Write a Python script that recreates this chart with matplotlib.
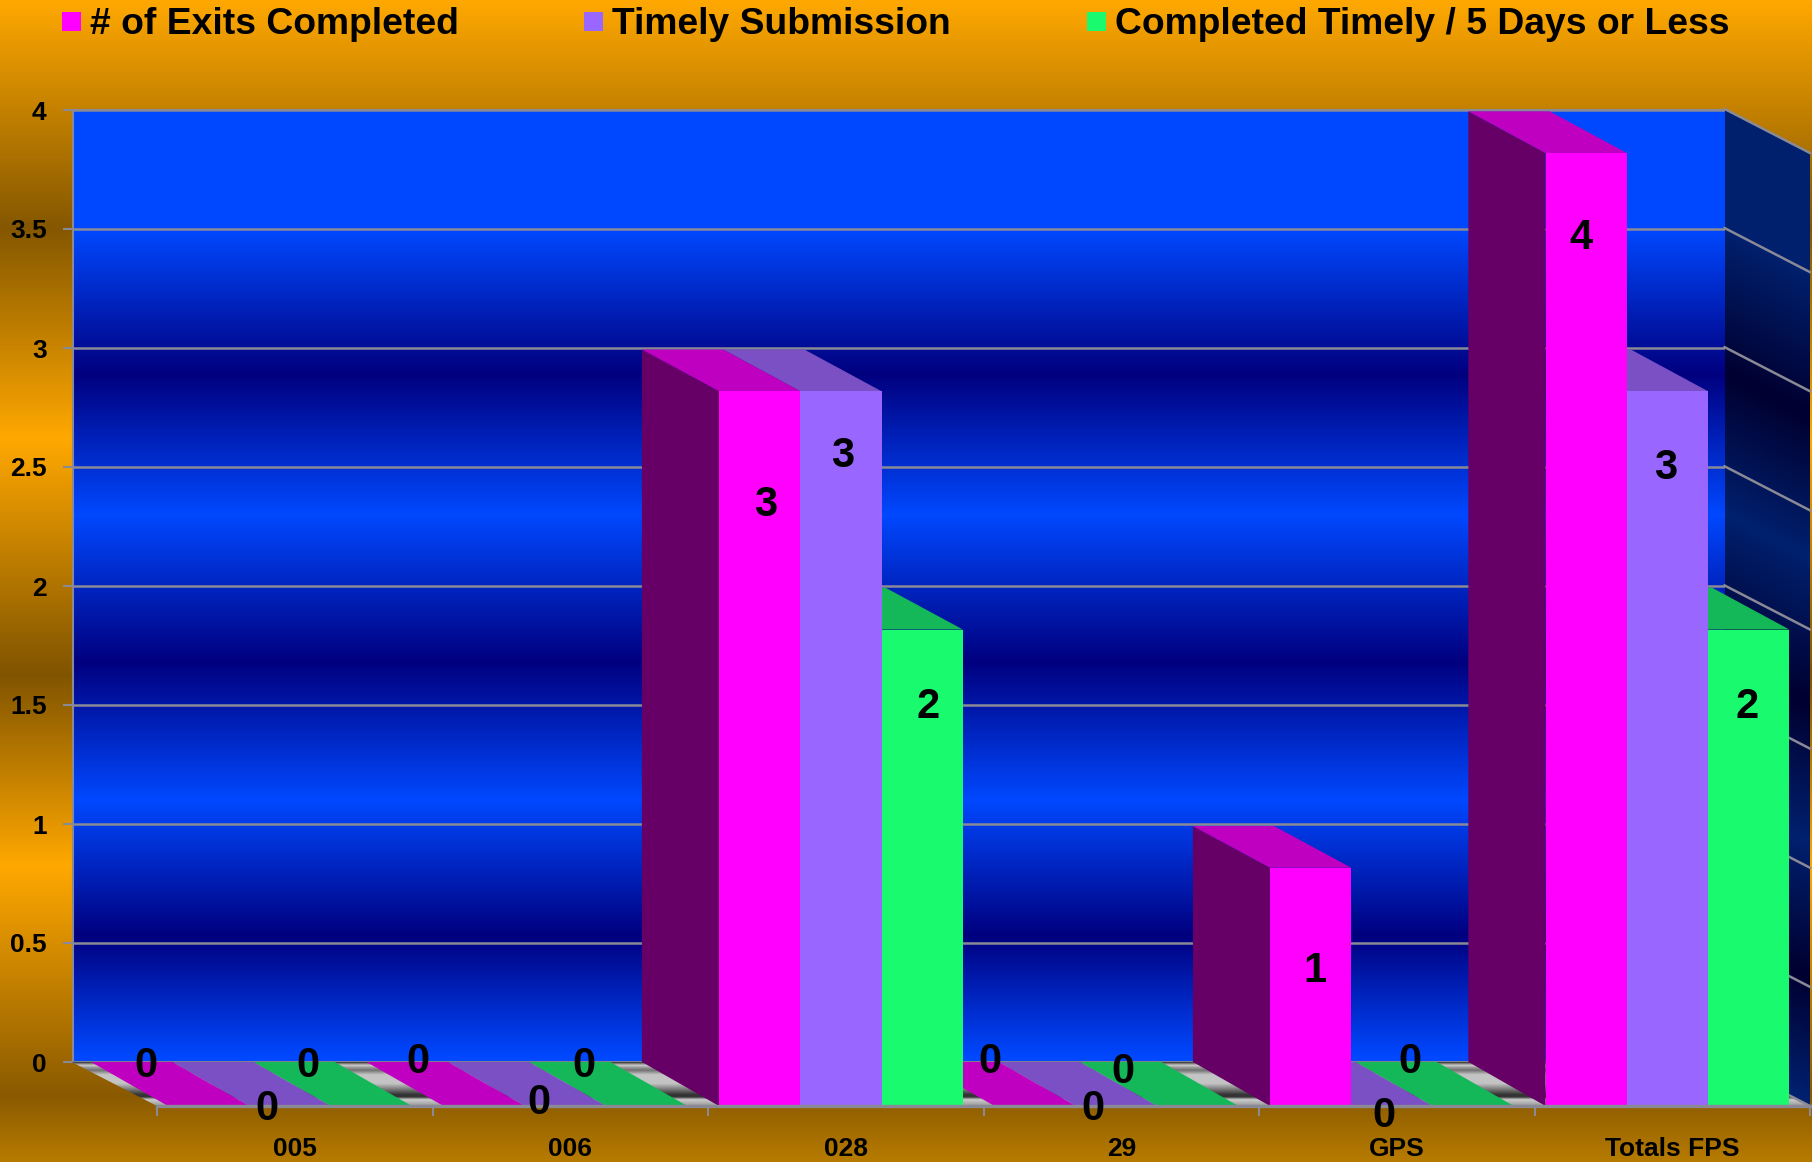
import numpy as np
import matplotlib
matplotlib.use('Agg')
import matplotlib.pyplot as plt
from matplotlib.patches import Polygon, Rectangle
from matplotlib.colors import to_rgb

plt.rcParams['font.family'] = ['Liberation Sans', 'DejaVu Sans']
plt.rcParams['font.weight'] = 'bold'

#-------------------------------------------------------------------------------
#--- (1) Data
#-------------------------------------------------------------------------------
categories = ['005', '006', '028', '29', 'GPS', 'Totals FPS']
series     = ['# of Exits Completed', 'Timely Submission',
              'Completed Timely / 5 Days or Less']
exits      = [0, 0, 3, 0, 1, 4]
timely     = [0, 0, 3, 0, 0, 3]
five_days  = [0, 0, 2, 0, 0, 2]
yticks     = [0, 0.5, 1, 1.5, 2, 2.5, 3, 3.5, 4]
ylabels    = ['0', '0.5', '1', '1.5', '2', '2.5', '3', '3.5', '4']

#-------------------------------------------------------------------------------
#--- (2) Styles
#-------------------------------------------------------------------------------
W, H = 1812, 1162
front_c = ['#FF00FF', '#9966FF', '#1AFA6E']
top_c   = ['#C000C0', '#7B50C4', '#14B858']
side_c  = ['#660066', '#4D3380', '#0D7C38']
grid_c  = '#8A8A96'

# label shift from the top of each bar's front face, in pixels
label_dx = [[-63, -23, -63], [-66, -26, -63], [6, 2, 6],
            [-45, -23, -75], [4, -8, -63], [-5, -2, -2]]
label_dy = [[40, -3, 40], [44, 3, 40], [-114, -65, -78],
            [44, -3, 34], [-103, -10, 44], [-85, -77, -78]]

# background gradients: (pixel row / axis value, colour)
orange_y = [0, 228, 438, 674, 865, 1095, 1162]
orange_c = ['#FFA800', '#845700', '#FFA800', '#805400', '#FFA800', '#8A5A00', '#B87C00']
wall_v   = [0.0, 0.02, 0.53, 1.10, 1.68, 2.30, 2.89, 3.50, 4.19]
wall_c   = ['#0048FF', '#0048FF', '#00007F', '#0048FF', '#00007F',
            '#0048FF', '#00007F', '#0048FF', '#0048FF']
side_g   = ['#00206E', '#00206E', '#000030', '#00206E', '#000030',
            '#00206E', '#000030', '#00206E', '#00206E']
floor_d  = [0, 0.14, 0.2, 0.25, 0.50, 0.70, 0.80, 0.86, 0.91, 0.99, 1]
floor_c  = ['#999999', '#CCCCCC', '#333333', '#333333', '#C4C4C4', '#C4C4C4',
            '#707070', '#999999', '#CCCCCC', '#222222', '#222222']

def ramp(pos, stops, cols):
    rgb = np.array([to_rgb(c) for c in cols])
    return np.stack([np.interp(pos, stops, rgb[:, i]) for i in range(3)], axis=-1)

def box(x0, y0, x1, y1):
    return [x0/W, 1-y1/H, (x1-x0)/W, (y1-y0)/H]

#-------------------------------------------------------------------------------
#--- (3) Background and back wall
#-------------------------------------------------------------------------------
fig = plt.figure(figsize=(W/100, H/100), dpi=100)
bg = fig.add_axes([0, 0, 1, 1], zorder=0)
rows = np.arange(H)
bg.imshow(ramp(rows, orange_y, orange_c)[:, None, :], aspect='auto', extent=[0, W, H, 0])
bg.set_axis_off()

ax = fig.add_axes(box(73, 110, 1725, 1062), zorder=1)
vals = np.linspace(4, 0, 952)
ax.imshow(ramp(vals, wall_v, wall_c)[:, None, :], aspect='auto', extent=[0, 6, 0, 4])
ax.set_xlim(0, 6)
ax.set_ylim(0, 4)
ax.set_xticks([])
ax.set_yticks(yticks, ylabels, fontsize=19)
ax.tick_params(axis='y', length=7.5, width=1.5, color=grid_c, pad=11.5)
ax.set_axisbelow(True)
ax.grid(axis='y', color=grid_c, linewidth=1.8)
for s in ax.spines.values():
    s.set_color(grid_c)
    s.set_linewidth(1.5)
ax.spines['right'].set_visible(False)

#-------------------------------------------------------------------------------
#--- (4) Front plane: floor, side wall, bars
#-------------------------------------------------------------------------------
fr = fig.add_axes(box(157, 153, 1810, 1106), zorder=2)
fr.patch.set_alpha(0)
DX, DY = 0.31, 0.185      # floor depth in data units
BX, BT = 0.28, 0.175      # bar depth along x, and along y at the bar top
gap, bw = 0.04, 0.295

floor = Polygon([(0, 0), (6, 0), (6-DX, DY), (-DX, DY)], transform=fr.transData, fc='none', ec='none')
fr.add_patch(floor)
im = fr.imshow(ramp(np.linspace(1, 0, 90), floor_d, floor_c)[:, None, :], aspect='auto',
               extent=[-DX, 6, 0, DY], zorder=1)
im.set_clip_box(fig.bbox)
im.set_clip_path(floor)

wall = Polygon([(6, 0), (6, 4), (6-DX, 4+DY), (6-DX, DY)], transform=fr.transData, fc='none', ec='none')
fr.add_patch(wall)
xs = np.linspace(6-DX, 6, 60)
ys = np.linspace(4+DY, 0, 600)
xx, yy = np.meshgrid(xs, ys)
im2 = fr.imshow(ramp(yy - DY*(6-xx)/DX, wall_v, side_g), aspect='auto',
                extent=[6-DX, 6, 0, 4+DY], zorder=1)
im2.set_clip_box(fig.bbox)
im2.set_clip_path(wall)

for v in yticks:
    fr.plot([6-DX, 6], [v+DY, v], color=grid_c, lw=1.8, zorder=2, clip_on=False)

values = [exits, timely, five_days]
z = 10
for i in range(len(categories)-1, -1, -1):
    for j in range(2, -1, -1):
        v = values[j][i]
        x0 = i + gap + j*bw
        x1 = x0 + bw
        top = DY if v == 0 else BT
        if v > 0:
            fr.add_patch(Polygon([(x0, 0), (x0, v), (x0-BX, v+top), (x0-BX, DY)],
                                 fc=side_c[j], ec='none', zorder=z, clip_on=False))
        fr.add_patch(Polygon([(x0, v), (x1, v), (x1-BX, v+top), (x0-BX, v+top)],
                             fc=top_c[j], ec='none', zorder=z+1, clip_on=False))
        fr.bar(x0, v, bw, align='edge', color=front_c[j], zorder=z+2, clip_on=False)
        z += 3

for i in range(len(categories)):
    for j in range(3):
        v = values[j][i]
        fr.annotate(str(v), (i + gap + (j+0.5)*bw, v),
                    xytext=(label_dx[i][j], label_dy[i][j]), textcoords='offset pixels',
                    ha='center', va='center', fontsize=30, color='black',
                    zorder=500, annotation_clip=False)

fr.set_xlim(0, 6)
fr.set_ylim(0, 4)
fr.set_yticks([])
fr.set_xticks(range(7))
fr.set_xticklabels([])
fr.set_xticks(np.arange(6)+0.5, categories, minor=True, fontsize=19)
fr.tick_params(axis='x', which='major', length=7.5, width=1.5, color=grid_c)
fr.tick_params(axis='x', which='minor', length=0, pad=22)
for k in ['top', 'left', 'right']:
    fr.spines[k].set_visible(False)
fr.spines['bottom'].set_color(grid_c)
fr.spines['bottom'].set_linewidth(2.4)
fr.spines['bottom'].set_zorder(400)

#-------------------------------------------------------------------------------
#--- (5) Legend
#-------------------------------------------------------------------------------
key_x = [62, 584, 1087]
for n in range(3):
    fig.add_artist(Rectangle((key_x[n]/W, 1-31/H), 19/W, 19/H, transform=fig.transFigure,
                             fc=front_c[n], ec='none'))
    fig.text((key_x[n]+28)/W, 1-34/H, series[n], fontsize=26.8, va='baseline', ha='left')

fig.savefig('out.png', dpi=100)
